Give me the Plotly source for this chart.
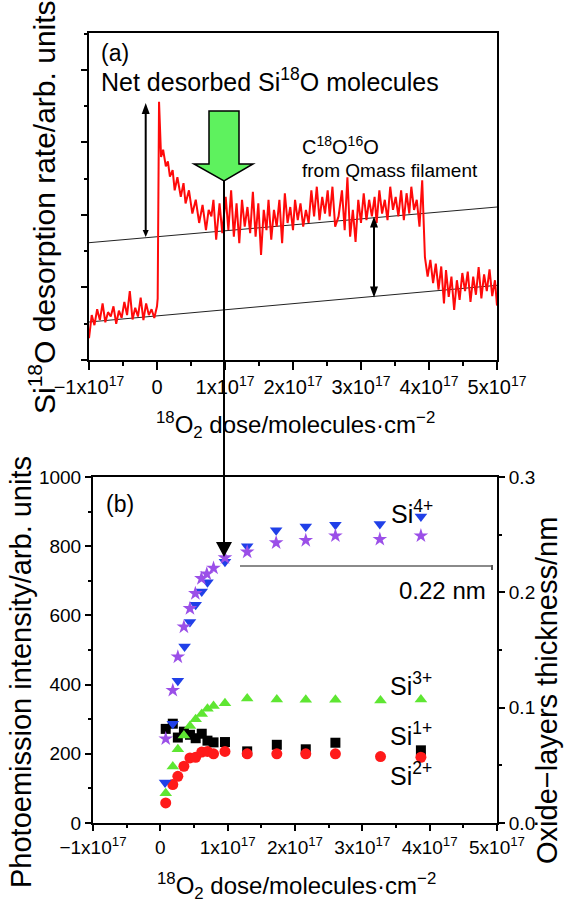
import plotly.graph_objects as go

W, H = 565, 903
def px(x):
    return x / W
def py(y):
    return 1 - y / H

FONT = "Liberation Sans, Arial, sans-serif"

# ---------------- data: panel (a) ----------------
# 18O2 dose in units of 1e17 molecules/cm^2, Si18O desorption rate (arb. units)
dose_a = [-1.00, -0.96, -0.92, -0.88, -0.84, -0.80, -0.76, -0.72, -0.68, -0.64, -0.60, -0.56, -0.52,
          -0.48, -0.44, -0.40, -0.36, -0.32, -0.28, -0.24, -0.20, -0.16, -0.12, -0.08, -0.04, 0.00,
          0.01, 0.03, 0.06, 0.09, 0.13, 0.16, 0.19, 0.23, 0.26, 0.30, 0.35, 0.39, 0.42, 0.47, 0.52,
          0.57, 0.62, 0.67, 0.72, 0.76,
          0.80, 0.83, 0.87, 0.92, 0.96, 1.01, 1.05, 1.09, 1.13, 1.17, 1.21, 1.25, 1.29, 1.33, 1.37,
          1.41, 1.45, 1.49, 1.53, 1.57, 1.61, 1.64, 1.68, 1.72, 1.76, 1.80, 1.84, 1.88, 1.92, 1.96,
          2.00, 2.03, 2.07, 2.11, 2.15, 2.19, 2.23, 2.27, 2.31, 2.35, 2.39, 2.43, 2.47, 2.51, 2.54,
          2.58, 2.62, 2.67, 2.72, 2.76, 2.80, 2.84, 2.88, 2.92, 2.96, 3.00, 3.04, 3.08, 3.12, 3.16,
          3.20, 3.23, 3.27, 3.31, 3.35, 3.39, 3.43, 3.47, 3.51, 3.55, 3.59, 3.63, 3.67, 3.71, 3.74,
          3.78, 3.82, 3.86, 3.90, 3.92, 3.94, 3.98, 4.02, 4.06, 4.10, 4.14, 4.18, 4.22, 4.25, 4.29,
          4.33, 4.37, 4.41, 4.45, 4.49, 4.53, 4.57, 4.61, 4.65, 4.69, 4.73, 4.77, 4.81, 4.85, 4.89,
          4.93, 4.97, 5.00]
rate_a = [0.30, 0.62, 0.48, 0.70, 0.55, 0.78, 0.52, 0.66, 0.60, 0.74, 0.50, 0.68, 0.58,
          0.80, 0.62, 0.95, 0.56, 0.72, 0.60, 0.86, 0.55, 0.78, 0.62, 0.70, 0.58, 0.74,
          0.85, 3.56, 2.80, 2.90, 2.67, 2.74, 2.53, 2.62, 2.34, 2.52, 2.25, 2.44, 2.16, 2.34, 2.02,
          2.21, 1.89, 2.14, 1.79, 2.07,
          1.98, 2.21, 1.66, 2.16, 1.75, 2.25, 1.79, 2.34, 1.70, 2.16, 1.61, 2.21, 1.84, 2.11, 1.75,
          2.32, 1.70, 2.16, 1.45, 2.07, 1.79, 2.21, 1.66, 2.07, 1.84, 2.21, 1.61, 2.30, 1.89, 2.11,
          1.79, 2.21, 1.93, 2.16, 1.84, 2.07, 1.89, 2.34, 1.98, 2.39, 1.93, 2.25, 2.02, 2.34, 1.98,
          2.39, 1.84, 1.98, 2.34, 1.79, 2.52, 1.70, 2.07, 1.63, 2.21, 1.89, 2.30, 1.93, 2.21, 1.98,
          2.25, 1.89, 2.34, 2.02, 2.21, 1.93, 2.39, 2.07, 2.25, 1.98, 2.34, 1.93, 2.30, 2.02, 2.39,
          2.07, 2.21, 1.84, 2.48, 1.79, 1.42, 1.15, 1.38, 1.06, 1.33, 0.97, 1.29, 0.78, 1.24, 0.87,
          1.15, 0.69, 1.10, 0.83, 1.20, 0.95, 1.22, 0.80, 1.15, 0.90, 1.28, 0.85, 1.18, 0.95, 1.25,
          0.88, 1.10, 0.75]

# background lines (start / end of x range)
baseline_x = [-1.0, 5.0]
lower_baseline = [0.524, 1.03]
upper_baseline = [1.618, 2.11]

# ---------------- data: panel (b) ----------------
si1_x = [0.08, 0.185, 0.26, 0.35, 0.44, 0.525, 0.615, 0.70, 0.79, 0.96, 1.29, 1.73, 2.16, 2.60, 3.87]
si1_y = [272, 287, 247, 264, 255, 245, 258, 238, 233, 234, 207, 226, 213, 232, 210]

si2_x = [0.08, 0.185, 0.26, 0.35, 0.44, 0.525, 0.615, 0.70, 0.79, 0.96, 1.29, 1.73, 2.16, 2.60, 3.27, 3.87]
si2_y = [58, 111, 135, 164, 188, 190, 205, 207, 200, 207, 200, 200, 200, 200, 192, 190]

si3_x = [0.08, 0.185, 0.26, 0.35, 0.44, 0.525, 0.615, 0.70, 0.79, 0.96, 1.29, 1.73, 2.16, 2.60, 3.27, 3.87]
si3_y = [86, 163, 213, 253, 280, 300, 315, 330, 338, 346, 360, 357, 356, 356, 354, 357]

si4_x = [0.07, 0.185, 0.26, 0.36, 0.44, 0.525, 0.615, 0.70, 0.96, 1.29, 1.72, 2.16, 2.60, 3.26, 3.87]
si4_y = [117, 287, 411, 510, 581, 631, 669, 696, 755, 800, 846, 857, 862, 864, 886]

thick_x = [0.08, 0.185, 0.26, 0.35, 0.44, 0.52, 0.61, 0.69, 0.79, 0.96, 1.29, 1.72, 2.16, 2.60, 3.26, 3.87]
thick_nm = [0.073, 0.115, 0.144, 0.170, 0.186, 0.199, 0.212, 0.216, 0.221, 0.230, 0.235, 0.243,
            0.245, 0.249, 0.246, 0.249]

tick_vals = [-1, 0, 1, 2, 3, 4, 5]
tick_text = ["\u22121x10<sup>17</sup>", "0", "1x10<sup>17</sup>", "2x10<sup>17</sup>",
             "3x10<sup>17</sup>", "4x10<sup>17</sup>", "5x10<sup>17</sup>"]
left_ticks = [0, 200, 400, 600, 800, 1000]
right_ticks = [0.0, 0.1, 0.2, 0.3]

fig = go.Figure()

# panel (a)
fig.add_trace(go.Scatter(x=baseline_x, y=lower_baseline, mode="lines",
                         line=dict(color="#222", width=1), xaxis="x", yaxis="y"))
fig.add_trace(go.Scatter(x=baseline_x, y=upper_baseline, mode="lines",
                         line=dict(color="#222", width=1), xaxis="x", yaxis="y"))
fig.add_trace(go.Scatter(x=dose_a, y=rate_a, mode="lines",
                         line=dict(color="#ff0a0a", width=2), xaxis="x", yaxis="y"))

# panel (b)
fig.add_trace(go.Scatter(x=si1_x, y=si1_y, mode="markers", xaxis="x2", yaxis="y2",
                         marker=dict(symbol="square", size=10, color="black")))
fig.add_trace(go.Scatter(x=si3_x, y=si3_y, mode="markers", xaxis="x2", yaxis="y2",
                         marker=dict(symbol="triangle-up", size=11, color="#5ee632")))
fig.add_trace(go.Scatter(x=si2_x, y=si2_y, mode="markers", xaxis="x2", yaxis="y2",
                         marker=dict(symbol="circle", size=11, color="#ff1a1a")))
fig.add_trace(go.Scatter(x=si4_x, y=si4_y, mode="markers", xaxis="x2", yaxis="y2",
                         marker=dict(symbol="triangle-down", size=11, color="#2040e8")))
fig.add_trace(go.Scatter(x=thick_x, y=thick_nm, mode="markers", xaxis="x2", yaxis="y3",
                         marker=dict(symbol="star", size=11, color="#9b4fe8")))

axis_common = dict(showgrid=False, zeroline=False, showline=True, linecolor="black",
                   linewidth=2, ticks="outside", tickwidth=2, tickcolor="black",
                   automargin=False)

def tf(size):
    return dict(family=FONT, size=size, color="black")

fig.update_layout(
    width=W, height=H, margin=dict(l=0, r=0, t=0, b=0, pad=0, autoexpand=False),
    paper_bgcolor="white", plot_bgcolor="white", showlegend=False,
    xaxis=dict(domain=[px(89), px(497)], anchor="y", range=[-1, 5],
               tickvals=tick_vals, ticktext=tick_text, ticklen=8, mirror=True, tickfont=tf(20),
               minor=dict(dtick=0.5, ticklen=4, tickwidth=2, tickcolor="black", ticks="outside"),
               **axis_common),
    yaxis=dict(domain=[py(360), py(33)], anchor="x", range=[0, 4.51], dtick=1,
               showticklabels=False, ticklen=6, mirror=True,
               minor=dict(dtick=0.5, ticklen=3, tickwidth=2, tickcolor="black", ticks="outside"),
               **axis_common),
    xaxis2=dict(domain=[px(93), px(497)], anchor="y2", range=[-1, 5],
                tickvals=tick_vals, ticktext=tick_text, ticklen=6, mirror=True, tickfont=tf(19),
                minor=dict(dtick=0.5, ticklen=3, tickwidth=2, tickcolor="black", ticks="outside"),
                **axis_common),
    yaxis2=dict(domain=[py(823), py(477)], anchor="x2", range=[0, 1000],
                tickvals=left_ticks, ticklen=6, tickfont=tf(19),
                minor=dict(dtick=100, ticklen=3, tickwidth=2, tickcolor="black", ticks="outside"),
                **axis_common),
    yaxis3=dict(overlaying="y2", anchor="x2", side="right", range=[0, 0.3],
                tickvals=right_ticks, tickformat=".1f", ticklen=6, tickfont=tf(19),
                minor=dict(dtick=0.05, ticklen=3, tickwidth=2, tickcolor="black", ticks="outside"),
                **axis_common),
)

ann = []
def text(x, y, s, size, xanchor="left", yanchor="middle", angle=0):
    ann.append(dict(x=px(x), y=py(y), xref="paper", yref="paper", text=s, showarrow=False,
                    xanchor=xanchor, yanchor=yanchor, textangle=angle,
                    font=dict(family=FONT, size=size, color="black")))

text(99, 53, "(a)", 23)
text(99, 80, "Net desorbed Si<sup>18</sup>O molecules", 25)
text(300, 145, "C<sup>18</sup>O<sup>16</sup>O", 20)
text(300, 170, "from Qmass filament", 19)
text(42, 207, "Si<sup>18</sup>O desorption rate/arb. units", 30, xanchor="center", angle=-90)
text(295, 425, "<sup>18</sup>O<sub>2</sub> dose/molecules\u00b7cm<sup>\u22122</sup>", 24, xanchor="center")

text(104, 504, "(b)", 23)
text(412, 512, "Si<sup>4+</sup>", 25, xanchor="center")
text(488, 590, "0.22 nm", 24, xanchor="right")
text(411, 684, "Si<sup>3+</sup>", 25, xanchor="center")
text(411, 734, "Si<sup>1+</sup>", 25, xanchor="center")
text(411, 774, "Si<sup>2+</sup>", 25, xanchor="center")
text(21, 672, "Photoemission intensity/arb. units", 29, xanchor="center", angle=-90)
text(547, 691, "Oxide\u2212layers thickness/nm", 29, xanchor="center", angle=-90)
text(296, 886, "<sup>18</sup>O<sub>2</sub> dose/molecules\u00b7cm<sup>\u22122</sup>", 24, xanchor="center")

shapes = []
def seg(x0, y0, x1, y1, color="black", width=2):
    shapes.append(dict(type="line", xref="paper", yref="paper", x0=px(x0), y0=py(y0),
                       x1=px(x1), y1=py(y1), line=dict(color=color, width=width)))
def poly(points, fill, line_color="black", line_width=0):
    d = "M " + " L ".join(f"{px(a):.5f},{py(b):.5f}" for a, b in points) + " Z"
    shapes.append(dict(type="path", xref="paper", yref="paper", path=d, fillcolor=fill,
                       line=dict(color=line_color, width=line_width)))
def head(x, y, up, w=4, h=11):
    if up:
        poly([(x - w, y + h), (x + w, y + h), (x, y)], "black")
    else:
        poly([(x - w, y - h), (x + w, y - h), (x, y)], "black")

# green arrow
poly([(209, 111), (239, 111), (239, 164), (253, 164), (224, 181), (194, 164), (209, 164)],
     "#5ef25e", "black", 1.5)
# long vertical arrow
seg(224, 181, 224, 545)
head(224, 557, up=False, w=8, h=15)
# left arrow in (a)
seg(145.7, 110, 145.7, 232)
head(145.7, 103, up=True)
head(145.7, 237, up=False, w=3, h=7)
# right double arrow in (a)
seg(374, 222, 374, 292)
head(374, 216.5, up=True)
head(374, 297.5, up=False)
# 0.22 nm line
seg(240, 566, 492, 566, color="#8a8a8a", width=2)
seg(492, 565, 492, 570, color="#555", width=2)

fig.update_layout(annotations=ann, shapes=shapes)
fig.write_html("out.html")
